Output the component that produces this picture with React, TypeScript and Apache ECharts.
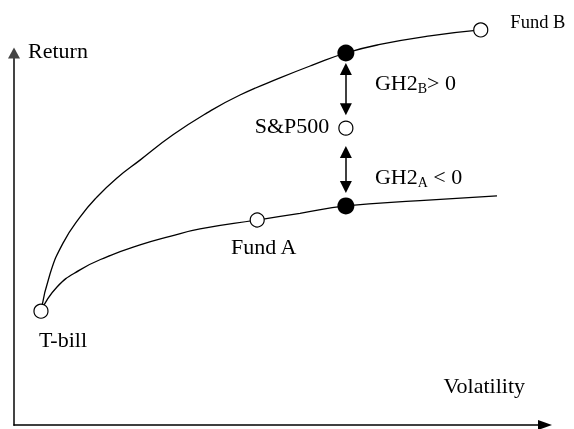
import React, { useEffect, useRef } from 'react';
import * as echarts from 'echarts';

const FONT = "'Liberation Serif', 'Times New Roman', serif";

// Axis titles
const axisTitles = ['Volatility', 'Return'];

// Upper curve (T-bill -> Fund B)
const curveBX = [5.08, 6.78, 9.23, 12.43, 15.63, 19.4, 23.73, 29.94, 36.35, 42.56, 50.09, 56.31, 62.5, 68.93, 78.34, 87.9];
const curveBY = [30.6, 40.6, 48.9, 55.9, 61.3, 66.4, 71.2, 78.0, 83.9, 88.7, 93.3, 96.8, 100.0, 102.3, 104.6, 106.2];

// Lower curve (T-bill -> Fund A and beyond)
const curveAX = [5.08, 8.1, 12.43, 17.51, 23.73, 29.38, 35.03, 45.8, 53.86, 62.5, 76.46, 90.96];
const curveAY = [30.6, 37.1, 41.7, 45.2, 48.4, 50.7, 52.7, 55.1, 56.9, 58.9, 60.3, 61.6];

// Open points
const openNames = ['T-bill', 'Fund A', 'S&P500', 'Fund B'];
const openX = [5.08, 45.8, 62.5, 87.9];
const openY = [30.6, 55.1, 79.8, 106.2];

// Filled points (same volatility as S&P500)
const filledX = [62.5, 62.5];
const filledY = [100.0, 58.9];

// Double arrows (x, yFrom, yTo)
const arrowX = [62.5, 62.5];
const arrowFrom = [95.7, 73.4];
const arrowTo = [84.9, 64.0];

// GH2 annotations
const ghTexts = ['{m|GH2}{s|B}{m|> 0}', '{m|GH2}{s|A}{m| < 0}'];
const ghX = [62.5, 62.5];
const ghY = [92.2, 66.9];

export default function App() {
  const ref = useRef<HTMLDivElement>(null);
  useEffect(() => {
    if (!ref.current) return;
    const chart = echarts.init(ref.current, undefined, { renderer: 'svg' });
    const textBase = { fontFamily: FONT, fontSize: 22, color: '#000' };
    const openLabelCfg: any[] = [
      { position: 'bottom', distance: 10, offset: [22, 0] },
      { position: 'bottom', distance: 8, offset: [6.5, 0] },
      { position: 'left', distance: 9, offset: [0, -3] },
      { position: 'right', distance: 22, offset: [0, -8], fontSize: 18.5 },
    ];
    chart.setOption({
      animation: false,
      grid: { left: 14, right: 29, top: 53, bottom: 4 },
      xAxis: {
        type: 'value',
        min: 0,
        max: 100,
        name: axisTitles[0],
        nameLocation: 'end',
        nameGap: 0,
        nameTextStyle: { ...textBase, align: 'right', verticalAlign: 'bottom', padding: [0, 20, 29, 0] },
        axisLine: { show: true, symbol: ['none', 'triangle'], symbolSize: [10, 14], lineStyle: { color: '#000', width: 1.5 } },
        axisTick: { show: false },
        axisLabel: { show: false },
        splitLine: { show: false },
      },
      yAxis: {
        type: 'value',
        min: 0,
        max: 100,
        name: axisTitles[1],
        nameLocation: 'end',
        nameGap: 3,
        nameTextStyle: { ...textBase, align: 'left', verticalAlign: 'middle', padding: [0, 0, 0, 14] },
        axisLine: { show: true, symbol: ['none', 'triangle'], symbolSize: [12, 11], lineStyle: { color: '#444', width: 2 } },
        axisTick: { show: false },
        axisLabel: { show: false },
        splitLine: { show: false },
      },
      series: [
        {
          type: 'line',
          data: curveBX.map((x, i) => [x, curveBY[i]]),
          smooth: 0.5,
          symbol: 'none',
          clip: false,
          lineStyle: { color: '#000', width: 1.3 },
          z: 2,
        },
        {
          type: 'line',
          data: curveAX.map((x, i) => [x, curveAY[i]]),
          smooth: 0.5,
          symbol: 'none',
          clip: false,
          lineStyle: { color: '#000', width: 1.3 },
          z: 2,
        },
        {
          type: 'lines',
          coordinateSystem: 'cartesian2d',
          symbol: ['triangle', 'triangle'],
          symbolSize: [12, 12],
          lineStyle: { color: '#000', width: 1.5, opacity: 1 },
          itemStyle: { color: '#000' },
          data: arrowX.map((x, i) => ({ coords: [[x, arrowFrom[i]], [x, arrowTo[i]]] })),
          z: 3,
        },
        {
          type: 'scatter',
          clip: false,
          symbol: 'circle',
          symbolSize: 14,
          itemStyle: { color: '#fff', borderColor: '#000', borderWidth: 1.2, opacity: 1 },
          label: { show: true, ...textBase, formatter: '{b}' },
          data: openNames.map((n, i) => ({
            name: n,
            value: [openX[i], openY[i]],
            label: openLabelCfg[i],
          })),
          z: 5,
        },
        {
          type: 'scatter',
          clip: false,
          symbol: 'circle',
          symbolSize: 17,
          itemStyle: { color: '#000', opacity: 1 },
          data: filledX.map((x, i) => [x, filledY[i]]),
          z: 5,
        },
        {
          type: 'scatter',
          clip: false,
          symbol: 'circle',
          symbolSize: 2,
          itemStyle: { color: 'rgba(0,0,0,0)', opacity: 1 },
          label: {
            show: true,
            position: 'right',
            distance: 28,
            color: '#000',
            formatter: (p: any) => ghTexts[p.dataIndex],
            rich: {
              m: { fontFamily: FONT, fontSize: 22, color: '#000', lineHeight: 26, verticalAlign: 'middle' },
              s: { fontFamily: FONT, fontSize: 14, color: '#000', lineHeight: 26, verticalAlign: 'bottom' },
            },
          },
          data: ghX.map((x, i) => [x, ghY[i]]),
          z: 6,
        },
      ],
    });
    return () => chart.dispose();
  }, []);
  return <div ref={ref} style={{ position: 'fixed', left: 0, top: 0, width: 574, height: 429 }} />;
}
